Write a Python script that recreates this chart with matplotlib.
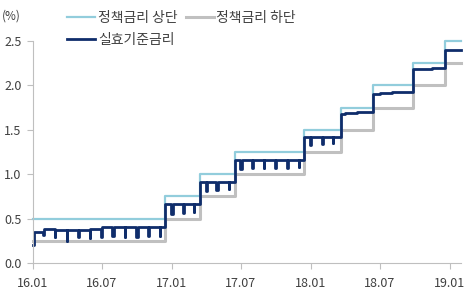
import pandas as pd
import matplotlib
matplotlib.use("Agg")
import matplotlib.pyplot as plt
import matplotlib.dates as mdates

plt.rcParams['font.family'] = ['Noto Sans CJK KR', 'DejaVu Sans']

# 정책금리 (상단/하단) 변경 시점
policy_dates = ['2016-01-01', '2016-12-15', '2017-03-16', '2017-06-15', '2017-12-14',
                '2018-03-22', '2018-06-14', '2018-09-27', '2018-12-20', '2019-01-30']
upper = [0.50, 0.75, 1.00, 1.25, 1.50, 1.75, 2.00, 2.25, 2.50, 2.50]
lower = [0.25, 0.50, 0.75, 1.00, 1.25, 1.50, 1.75, 2.00, 2.25, 2.25]

# 실효기준금리 (월말 하락 포함)
eff_dates = ['2016-01-01', '2016-01-04', '2016-01-29', '2016-02-01', '2016-02-29', '2016-03-01',
             '2016-03-31', '2016-04-01', '2016-04-29', '2016-05-02', '2016-05-31', '2016-06-01',
             '2016-06-30', '2016-07-01', '2016-07-29', '2016-08-01', '2016-08-31', '2016-09-01',
             '2016-09-30', '2016-10-03', '2016-10-31', '2016-11-01', '2016-11-30', '2016-12-01',
             '2016-12-15', '2016-12-30', '2017-01-03', '2017-01-31', '2017-02-01', '2017-02-28',
             '2017-03-01', '2017-03-16', '2017-03-31', '2017-04-03', '2017-04-28', '2017-05-01',
             '2017-05-31', '2017-06-01', '2017-06-15', '2017-06-30', '2017-07-03', '2017-07-31',
             '2017-08-01', '2017-08-31', '2017-09-01', '2017-09-29', '2017-10-02', '2017-10-31',
             '2017-11-01', '2017-11-30', '2017-12-01', '2017-12-14', '2017-12-29', '2018-01-02',
             '2018-01-31', '2018-02-01', '2018-02-28', '2018-03-01', '2018-03-22', '2018-04-02',
             '2018-05-01', '2018-06-14', '2018-07-02', '2018-08-01', '2018-09-27', '2018-10-15',
             '2018-11-15', '2018-12-20', '2019-01-30']
eff_vals = [0.20, 0.35, 0.31, 0.38, 0.29, 0.37,
            0.25, 0.37, 0.29, 0.37, 0.28, 0.38,
            0.29, 0.40, 0.30, 0.40, 0.29, 0.40,
            0.29, 0.41, 0.30, 0.41, 0.30, 0.41,
            0.66, 0.55, 0.66, 0.56, 0.66, 0.57,
            0.66, 0.91, 0.81, 0.91, 0.82, 0.91,
            0.83, 0.91, 1.16, 1.06, 1.16, 1.07,
            1.16, 1.07, 1.16, 1.07, 1.16, 1.07,
            1.16, 1.08, 1.16, 1.42, 1.33, 1.42,
            1.34, 1.42, 1.35, 1.42, 1.68, 1.69,
            1.70, 1.90, 1.91, 1.92, 2.18, 2.19,
            2.20, 2.40, 2.40]

labels = ['정책금리 상단', '정책금리 하단', '실효기준금리']

pdates = pd.to_datetime(policy_dates)
edates = pd.to_datetime(eff_dates)

fig = plt.figure(figsize=(4.65, 2.97), dpi=100)
ax = fig.add_axes([0.070, 0.1145, 0.921, 0.7475])

l_low, = ax.plot(pdates, lower, drawstyle='steps-post', color='#c0c0c0', lw=2.2, clip_on=False)
l_up, = ax.plot(pdates, upper, drawstyle='steps-post', color='#92cddc', lw=1.6, clip_on=False)
l_eff, = ax.plot(edates, eff_vals, drawstyle='steps-post', color='#0f2d6b', lw=2.0, clip_on=False)

ax.set_xlim(pd.Timestamp('2016-01-01'), pd.Timestamp('2019-01-30'))
ax.set_ylim(0, 2.5)
ax.set_yticks([0.0, 0.5, 1.0, 1.5, 2.0, 2.5])
ax.yaxis.set_major_formatter(plt.FuncFormatter(lambda v, p: f'{v:.1f}'))
ax.xaxis.set_major_locator(mdates.MonthLocator(bymonth=[1, 7]))
ax.xaxis.set_major_formatter(mdates.DateFormatter('%y.%m'))

for s in ['top', 'right']:
    ax.spines[s].set_visible(False)
for s in ['left', 'bottom']:
    ax.spines[s].set_color('#bfbfbf')
    ax.spines[s].set_linewidth(0.8)
ax.tick_params(axis='both', colors='#bfbfbf', labelcolor='#404040', labelsize=9, length=4, width=0.8)
ax.tick_params(axis='x', pad=6)
ax.tick_params(axis='y', pad=4)

fig.text(0.005, 0.945, '(%)', fontsize=8.5, color='#404040', va='center')

fig.legend([l_up, l_eff, l_low], [labels[0], labels[2], labels[1]], ncol=2,
           loc='upper left', bbox_to_anchor=(0.127, 0.99), frameon=False,
           fontsize=10, handlelength=2.0, handletextpad=0.2, columnspacing=0.6,
           labelspacing=0.55, labelcolor='#404040', borderaxespad=0.2)

fig.savefig('out.png', dpi=100)
